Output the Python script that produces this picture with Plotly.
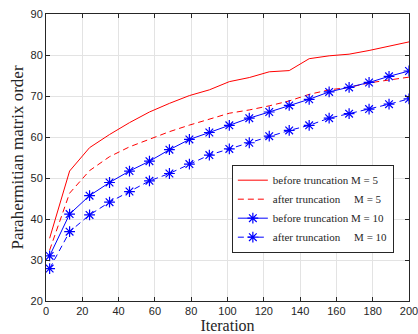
import plotly.graph_objects as go

iterations = [2, 13, 24, 35, 46, 57, 68, 79, 90, 101, 112, 123, 134, 145, 156, 167, 178, 189, 200]
before_m5 = [35.3, 51.7, 57.4, 60.6, 63.5, 66.1, 68.2, 70.1, 71.5, 73.5, 74.5, 75.9, 76.2, 79.1, 79.8, 80.2, 81.1, 82.1, 83.2]
after_m5 = [32.4, 46.3, 51.8, 55.2, 57.6, 59.4, 61.3, 62.9, 64.4, 65.8, 66.6, 67.6, 68.8, 70.4, 71.5, 72.1, 73.2, 73.9, 74.6]
before_m10 = [31.0, 41.2, 45.7, 48.9, 51.7, 54.1, 56.9, 59.4, 61.1, 62.85, 64.6, 66.1, 67.7, 69.2, 71.0, 72.1, 73.3, 74.8, 76.1]
after_m10 = [27.9, 36.9, 41.0, 44.1, 46.7, 49.3, 51.1, 53.4, 55.6, 57.1, 58.6, 60.2, 61.6, 62.85, 64.6, 65.7, 66.8, 68.0, 69.3]

NB = "\u00a0"
names = [
    "before truncation M = 5",
    "after truncation" + NB * 5 + "M = 5",
    "before truncation M = 10",
    "after truncation" + NB * 5 + "M = 10",
]

fig = go.Figure()
fig.add_trace(go.Scatter(x=iterations, y=before_m5, mode="lines", name=names[0],
                         line=dict(color="#ff0000", width=1)))
fig.add_trace(go.Scatter(x=iterations, y=after_m5, mode="lines", name=names[1],
                         line=dict(color="#ff0000", width=1, dash="6px,4px")))
fig.add_trace(go.Scatter(x=iterations, y=before_m10, mode="lines+markers", name=names[2],
                         line=dict(color="#0000ff", width=1),
                         marker=dict(symbol="asterisk-open", size=9, color="#0000ff",
                                     line=dict(color="#0000ff", width=1.2))))
fig.add_trace(go.Scatter(x=iterations, y=after_m10, mode="lines+markers", name=names[3],
                         line=dict(color="#0000ff", width=1, dash="6px,4px"),
                         marker=dict(symbol="asterisk-open", size=9, color="#0000ff",
                                     line=dict(color="#0000ff", width=1.2))))

axis_common = dict(
    showline=True, linecolor="#262626", linewidth=1, mirror="ticks",
    ticks="inside", ticklen=4, tickcolor="#262626",
    showgrid=True, gridcolor="#e3e3e3", gridwidth=1, zeroline=False,
    automargin=False, ticklabeloverflow="allow",
    tickfont=dict(family="Liberation Sans, Arial", size=11, color="#262626"),
)

fig.update_layout(
    width=418, height=334,
    margin=dict(l=46, r=9, t=14, b=33),
    paper_bgcolor="white", plot_bgcolor="white",
    xaxis=dict(range=[0, 200], tickvals=list(range(0, 201, 20)),
               title=dict(text="Iteration", standoff=6,
                          font=dict(family="Liberation Serif, Times New Roman", size=16, color="#262626")),
               **axis_common),
    yaxis=dict(range=[20, 90], tickvals=list(range(20, 91, 10)),
               title=dict(text="Parahermitian matrix order", standoff=2,
                          font=dict(family="Liberation Serif, Times New Roman", size=17, color="#262626")),
               **axis_common),
    legend=dict(x=0.512, y=0.475, xanchor="left", yanchor="top",
                bgcolor="white", bordercolor="#262626", borderwidth=1,
                font=dict(family="Liberation Serif, Times New Roman", size=11, color="#262626"),
                tracegroupgap=0, itemwidth=30),
    showlegend=True,
)

fig.write_html("out.html", config={"displayModeBar": False},
               post_script="document.body.style.margin='0';document.body.style.padding='0';document.body.style.overflow='hidden';")
